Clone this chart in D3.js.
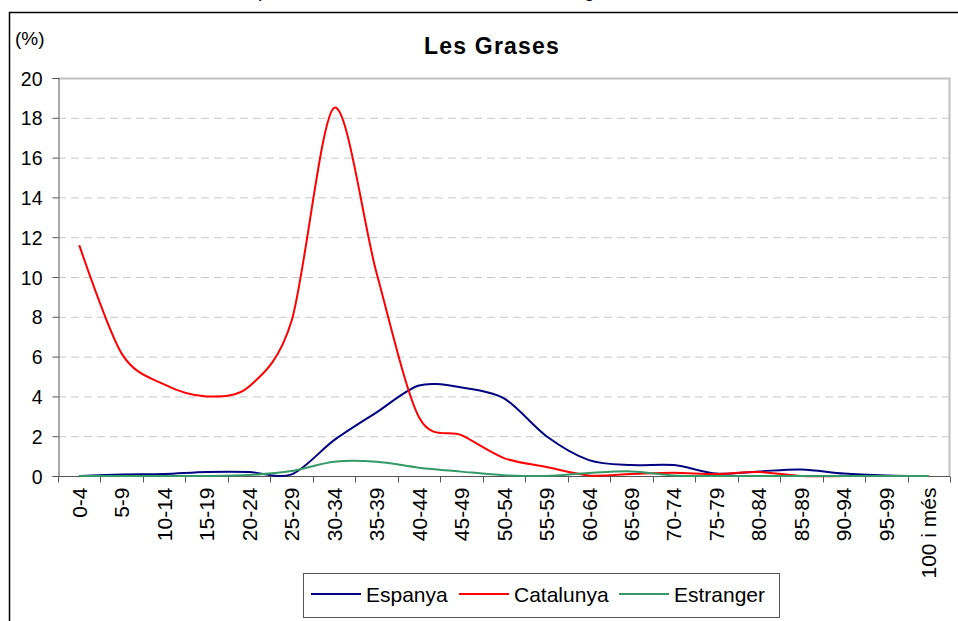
<!DOCTYPE html>
<html lang="ca">
<head>
  <meta charset="UTF-8">
  <title>Les Grases</title>
  <script src="https://d3js.org/d3.v7.min.js"></script>
  <style>
    body {
      margin: 0;
      background: #fff;
      font-family: Arial, "Liberation Sans", sans-serif;
    }

    .grid line {
      stroke: #c8c8c8;
      stroke-dasharray: 8 5;
    }

    .axis path,
    .axis line {
      stroke: #555;
    }

    .axis text {
      fill: #000;
      font-family: Arial, "Liberation Sans", sans-serif;
    }

    .series {
      fill: none;
      stroke-width: 2px;
    }
  </style>
</head>
<body>
  <div id="chart"></div>

  <script>
    // age groups on the x axis
    const ageGroups = ['0-4', '5-9', '10-14', '15-19', '20-24', '25-29', '30-34', '35-39',
      '40-44', '45-49', '50-54', '55-59', '60-64', '65-69', '70-74', '75-79',
      '80-84', '85-89', '90-94', '95-99', '100 i més'];

    // percentages
    const espanya = [0, 0.08, 0.1, 0.2, 0.2, 0.08, 1.8, 3.2, 4.55, 4.45, 3.9, 2.0,
      0.8, 0.55, 0.55, 0.12, 0.23, 0.33, 0.12, 0.03, 0];
    const catalunya = [11.6, 6.15, 4.6, 4.0, 4.5, 7.8, 18.5, 10.2, 2.95, 2.05, 0.9, 0.45,
      0.03, 0.1, 0.16, 0.1, 0.2, 0, 0, 0, 0];
    const estranger = [0, 0, 0, 0, 0.05, 0.25, 0.72, 0.72, 0.42, 0.22, 0.04, 0,
      0.15, 0.23, 0.03, 0, 0, 0, 0, 0, 0];

    const yTicks = [0, 2, 4, 6, 8, 10, 12, 14, 16, 18, 20];

    const series = [
      { name: 'Espanya', values: espanya, color: '#000080' },
      { name: 'Catalunya', values: catalunya, color: '#ff0000' },
      { name: 'Estranger', values: estranger, color: '#339966' }
    ];

    const width = 958;
    const height = 621;
    const plot = { left: 58, right: 950, top: 78, bottom: 476 };

    const svg = d3.select('#chart')
                  .append('svg')
                  .attr('width', width)
                  .attr('height', height);

    // heading of the page above the chart, cut off (only descenders show)
    svg.append('text')
       .attr('x', 258).attr('y', -3)
       .style('font-size', '19px')
       .text('p');
    svg.append('text')
       .attr('x', 584).attr('y', -3)
       .style('font-size', '19px')
       .text('g');

    // outer frame
    svg.append('path')
       .attr('d', `M9.5,${height} V12.5 H${width}`)
       .attr('fill', 'none')
       .attr('stroke', '#000')
       .attr('stroke-width', 1.5);

    const x = d3.scaleBand()
                .domain(ageGroups)
                .range([plot.left, plot.right])
                .padding(0);

    const y = d3.scaleLinear()
                .domain([0, 20])
                .range([plot.bottom, plot.top]);

    // grid
    svg.append('g')
       .attr('class', 'grid')
       .selectAll('line')
       .data(yTicks.filter(d => d > 0 && d < 20))
       .enter()
       .append('line')
       .attr('x1', plot.left)
       .attr('x2', plot.right)
       .attr('y1', d => y(d) + 0.5)
       .attr('y2', d => y(d) + 0.5);

    // plot area border (top and right)
    svg.append('path')
       .attr('d', `M${plot.left},${plot.top + 0.5} H${plot.right - 0.5} V${plot.bottom}`)
       .attr('fill', 'none')
       .attr('stroke', '#c0c0c0')
       .attr('stroke-width', 2);

    // y axis
    const yAxis = svg.append('g')
       .attr('class', 'axis')
       .attr('transform', `translate(${plot.left + 0.5},0)`)
       .call(d3.axisLeft(y).tickValues(yTicks).tickSize(6).tickPadding(10));
    yAxis.selectAll('text').style('font-size', '19.5px').attr('dy', '0.36em');

    // x axis: ticks at group boundaries
    const xAxis = svg.append('g')
       .attr('class', 'axis')
       .attr('transform', `translate(0,${plot.bottom + 0.5})`)
       .call(d3.axisBottom(x).tickSize(0).tickPadding(0));
    xAxis.select('.domain').attr('d', `M${plot.left},0H${plot.right}`);

    xAxis.selectAll('.bound')
         .data(ageGroups.concat(['end']))
         .enter()
         .append('line')
         .attr('class', 'bound')
         .attr('x1', (d, i) => Math.round(plot.left + i * x.bandwidth()) + 0.5)
         .attr('x2', (d, i) => Math.round(plot.left + i * x.bandwidth()) + 0.5)
         .attr('y1', 0)
         .attr('y2', 6);

    xAxis.selectAll('.tick text')
         .style('font-size', '21px')
         .attr('text-anchor', 'end')
         .attr('transform', 'rotate(-90)')
         .attr('x', -11)
         .attr('y', 0)
         .attr('dy', '0.36em');

    // lines
    const line = d3.line()
                   .x((d, i) => x(ageGroups[i]) + x.bandwidth() / 2)
                   .y(d => y(d))
                   .curve(d3.curveCardinal.tension(0.1));

    svg.selectAll('.series')
       .data(series)
       .enter()
       .append('path')
       .attr('class', 'series')
       .attr('stroke', d => d.color)
       .attr('d', d => line(d.values));

    // titles
    svg.append('text')
       .attr('x', 492)
       .attr('y', 54)
       .attr('text-anchor', 'middle')
       .style('font-size', '23px')
       .style('font-weight', 'bold')
       .style('letter-spacing', '1.2px')
       .text('Les Grases');

    svg.append('text')
       .attr('x', 15)
       .attr('y', 45)
       .style('font-size', '19px')
       .text('(%)');

    // legend
    const legend = svg.append('g');
    legend.append('rect')
          .attr('x', 303.5)
          .attr('y', 573.5)
          .attr('width', 476)
          .attr('height', 44)
          .attr('fill', '#fff')
          .attr('stroke', '#555');

    const legendX = [311, 459, 619];
    const item = legend.selectAll('.item')
          .data(series)
          .enter()
          .append('g')
          .attr('class', 'item')
          .attr('transform', (d, i) => `translate(${legendX[i]},594)`);

    item.append('line')
        .attr('x1', 0)
        .attr('x2', 50)
        .attr('stroke', d => d.color)
        .attr('stroke-width', 2);

    item.append('text')
        .attr('x', 55)
        .attr('dy', '0.36em')
        .style('font-size', '21px')
        .text(d => d.name);
  </script>
</body>
</html>
